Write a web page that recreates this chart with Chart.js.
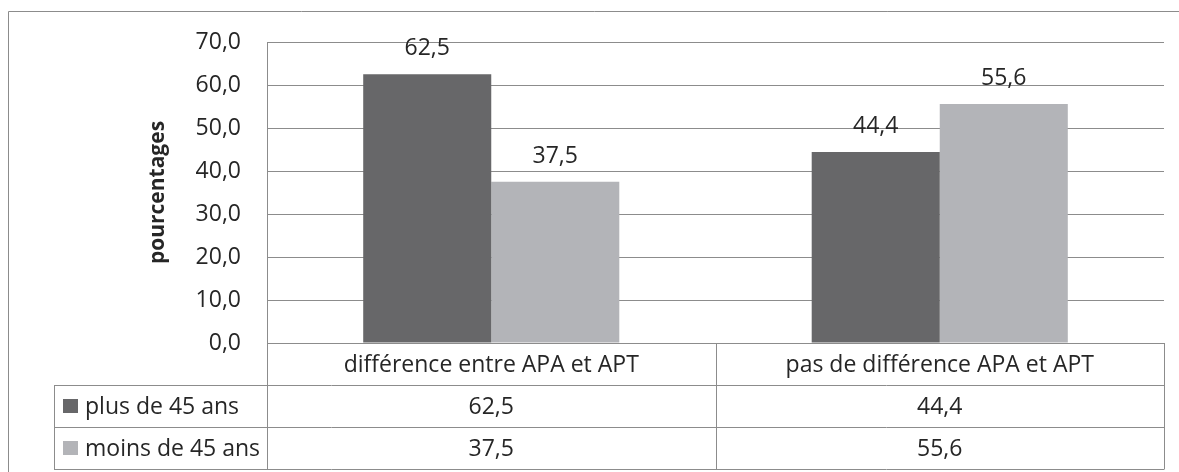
<!DOCTYPE html>
<html>
<head>
<meta charset="utf-8">
<script src="https://cdn.jsdelivr.net/npm/chart.js@4"></script>
<style>
  body { margin: 0; background: #fff; }
  #wrap { width: 1179px; height: 472px; }
</style>
</head>
<body>
<div id="wrap"><canvas id="chart" width="1179" height="472"></canvas></div>
<script>
// Data
const categories = ['différence entre APA et APT', 'pas de différence APA et APT'];
const seriesNames = ['plus de 45 ans', 'moins de 45 ans'];
const plusDe45 = [62.5, 44.4];
const moinsDe45 = [37.5, 55.6];
const yTicks = [0, 10, 20, 30, 40, 50, 60, 70];

const FONT = '"Open Sans", sans-serif';
const SIZE = 23;
const TEXT = '#262626';
const LINE = '#8c8c8c';
const DARK = 'rgb(103,103,105)';
const LIGHT = 'rgb(179,180,184)';

function fmt(v) {
  return v.toFixed(1).replace('.', ',');
}

// Value labels above each bar
const barLabels = {
  id: 'barLabels',
  afterDatasetsDraw(chart) {
    const ctx = chart.ctx;
    ctx.save();
    ctx.font = SIZE + 'px ' + FONT;
    ctx.fillStyle = TEXT;
    ctx.textAlign = 'center';
    ctx.textBaseline = 'alphabetic';
    chart.data.datasets.forEach((ds, i) => {
      chart.getDatasetMeta(i).data.forEach((bar, j) => {
        ctx.fillText(fmt(ds.data[j]), bar.x, bar.y - 19);
      });
    });
    ctx.restore();
  }
};

// Frame and data table under the plot (Excel style)
const dataTable = {
  id: 'dataTable',
  afterDraw(chart) {
    const ctx = chart.ctx;
    const x = chart.scales.x;
    const area = chart.chartArea;
    const left = area.left, right = area.right;
    const y0 = area.bottom;
    const rowH = 42;
    const tableLeft = 54;
    const colEdges = [left];
    for (let i = 0; i < categories.length; i++) {
      const c = x.getPixelForValue(i);
      const next = i < categories.length - 1 ? x.getPixelForValue(i + 1) : null;
      colEdges.push(next !== null ? (c + next) / 2 : right);
    }
    const px = v => Math.round(v) + 0.5;

    ctx.save();
    // outer frame
    ctx.strokeStyle = LINE;
    ctx.lineWidth = 1;
    ctx.beginPath();
    ctx.moveTo(px(8), 480);
    ctx.lineTo(px(8), px(11));
    ctx.lineTo(1190, px(11));
    ctx.stroke();

    // table lines
    ctx.beginPath();
    for (let r = 1; r <= 3; r++) {
      ctx.moveTo(tableLeft, px(y0 + r * rowH));
      ctx.lineTo(right, px(y0 + r * rowH));
    }
    ctx.moveTo(px(tableLeft), px(y0 + rowH));
    ctx.lineTo(px(tableLeft), px(y0 + 3 * rowH));
    colEdges.forEach(e => {
      ctx.moveTo(px(e), y0);
      ctx.lineTo(px(e), px(y0 + 3 * rowH));
    });
    ctx.stroke();

    // header row: category names
    ctx.font = SIZE + 'px ' + FONT;
    ctx.fillStyle = TEXT;
    ctx.textAlign = 'center';
    ctx.textBaseline = 'middle';
    categories.forEach((c, i) => {
      ctx.fillText(c, (colEdges[i] + colEdges[i + 1]) / 2, y0 + rowH / 2 + 1);
    });

    // series rows
    const rows = [plusDe45, moinsDe45];
    const colors = [DARK, LIGHT];
    rows.forEach((vals, r) => {
      const cy = y0 + rowH * (r + 1) + rowH / 2 + 1;
      ctx.fillStyle = colors[r];
      ctx.fillRect(63, Math.round(cy - 8), 15, 14);
      ctx.fillStyle = TEXT;
      ctx.textAlign = 'left';
      ctx.fillText(seriesNames[r], 85, cy);
      ctx.textAlign = 'center';
      vals.forEach((v, i) => {
        ctx.fillText(fmt(v), (colEdges[i] + colEdges[i + 1]) / 2, cy);
      });
    });
    ctx.restore();
  }
};

new Chart(document.getElementById('chart'), {
  type: 'bar',
  data: {
    labels: categories,
    datasets: [
      { label: seriesNames[0], data: plusDe45, backgroundColor: DARK },
      { label: seriesNames[1], data: moinsDe45, backgroundColor: LIGHT }
    ]
  },
  options: {
    responsive: false,
    animation: false,
    events: [],
    layout: { padding: { top: 42, right: 15, bottom: 129, left: 0 } },
    datasets: { bar: { categoryPercentage: 0.571, barPercentage: 1 } },
    plugins: { legend: { display: false }, tooltip: { enabled: false } },
    scales: {
      x: { display: false },
      y: {
        min: 0,
        max: 70,
        afterBuildTicks(scale) { scale.ticks = yTicks.map(v => ({ value: v })); },
        afterFit(scale) { scale.width = 267; },
        grid: { color: LINE, lineWidth: 1, drawTicks: false },
        border: { color: LINE, width: 1 },
        ticks: {
          color: TEXT,
          padding: 26,
          font: { family: FONT, size: SIZE },
          callback: v => fmt(v)
        },
        title: {
          display: true,
          text: 'pourcentages',
          color: TEXT,
          font: { family: FONT, size: 21, weight: 'bold' },
          padding: { top: 145, bottom: 0 }
        }
      }
    }
  },
  plugins: [barLabels, dataTable]
});
</script>
</body>
</html>
